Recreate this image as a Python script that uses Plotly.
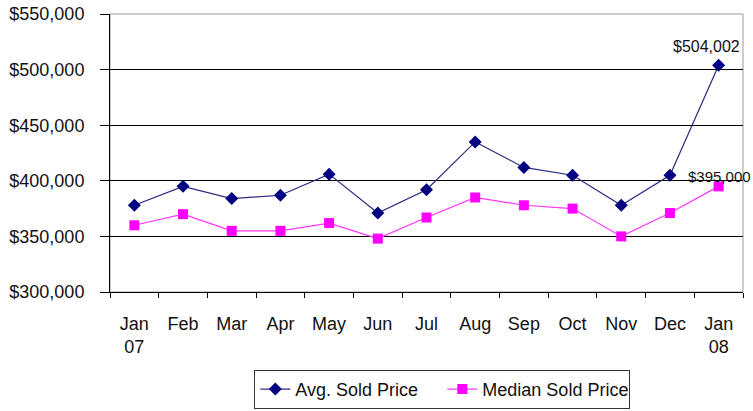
import plotly.graph_objects as go

months = ["Jan<br>07", "Feb", "Mar", "Apr", "May", "Jun", "Jul", "Aug", "Sep", "Oct", "Nov", "Dec", "Jan<br>08"]
avg_price = [378000, 395000, 384000, 387000, 406000, 371000, 392000, 435000, 412000, 405000, 378000, 405000, 504002]
median_price = [360000, 370000, 355000, 355000, 362000, 348000, 367000, 385000, 378000, 375000, 350000, 371000, 395000]
y_ticks = [300000, 350000, 400000, 450000, 500000, 550000]
y_tick_text = ["$300,000", "$350,000", "$400,000", "$450,000", "$500,000", "$550,000"]

FONT = "Liberation Sans, Arial, sans-serif"

fig = go.Figure()
fig.add_trace(go.Scatter(
    x=months, y=avg_price, name="Avg. Sold Price", mode="lines+markers",
    line=dict(color="#2a2a80", width=1.2),
    marker=dict(symbol="diamond", size=10, color="#000080"),
))
fig.add_trace(go.Scatter(
    x=months, y=median_price, name="Median Sold Price", mode="lines+markers",
    line=dict(color="#ff33ff", width=1.2),
    marker=dict(symbol="square", size=10, color="#ff00ff"),
))

fig.add_annotation(x=months[-1], y=avg_price[-1], text="${:,}".format(avg_price[-1]),
                   showarrow=False, yshift=19, xshift=-12,
                   font=dict(family=FONT, size=16, color="#111111"))
fig.add_annotation(x=months[-1], y=median_price[-1], text="${:,}".format(median_price[-1]),
                   showarrow=False, yshift=10, xshift=-33, xanchor="left",
                   font=dict(family=FONT, size=15, color="#111111"))

fig.add_shape(type="rect", xref="paper", yref="paper", x0=0, y0=0, x1=1, y1=1,
              line=dict(color="#999999", width=1), layer="below")

fig.update_layout(
    width=753, height=411,
    margin=dict(l=110, r=10, t=14, b=119, autoexpand=False),
    paper_bgcolor="white", plot_bgcolor="white",
    font=dict(family=FONT, size=18, color="#111111"),
    showlegend=True,
    legend=dict(orientation="h", x=0.525, xanchor="center", y=-0.28, yanchor="top",
                bordercolor="#333333", borderwidth=1, bgcolor="white",
                font=dict(size=18), entrywidth=142, entrywidthmode="pixels"),
)
fig.update_xaxes(
    type="category", range=[-0.5, len(months) - 0.5],
    showline=True, linecolor="black", linewidth=1,
    ticks="outside", tickson="boundaries", ticklen=5, tickcolor="black",
    showgrid=False, tickfont=dict(size=18), automargin=False,
    ticklabelstandoff=15,
)
fig.update_yaxes(
    range=[300000, 550000], tickvals=y_ticks, ticktext=y_tick_text,
    showline=True, linecolor="black", linewidth=1,
    ticks="outside", ticklen=9, tickcolor="black",
    showgrid=True, gridcolor="black", gridwidth=1, zeroline=False,
    tickfont=dict(size=18), automargin=False, ticklabelstandoff=12,
    ticklabeloverflow="allow",
)

# remove the browser's default 8px body margin so the figure fills the window exactly
fig.write_html("out.html", config={"displayModeBar": False},
               post_script="document.body.style.margin='0px';")
